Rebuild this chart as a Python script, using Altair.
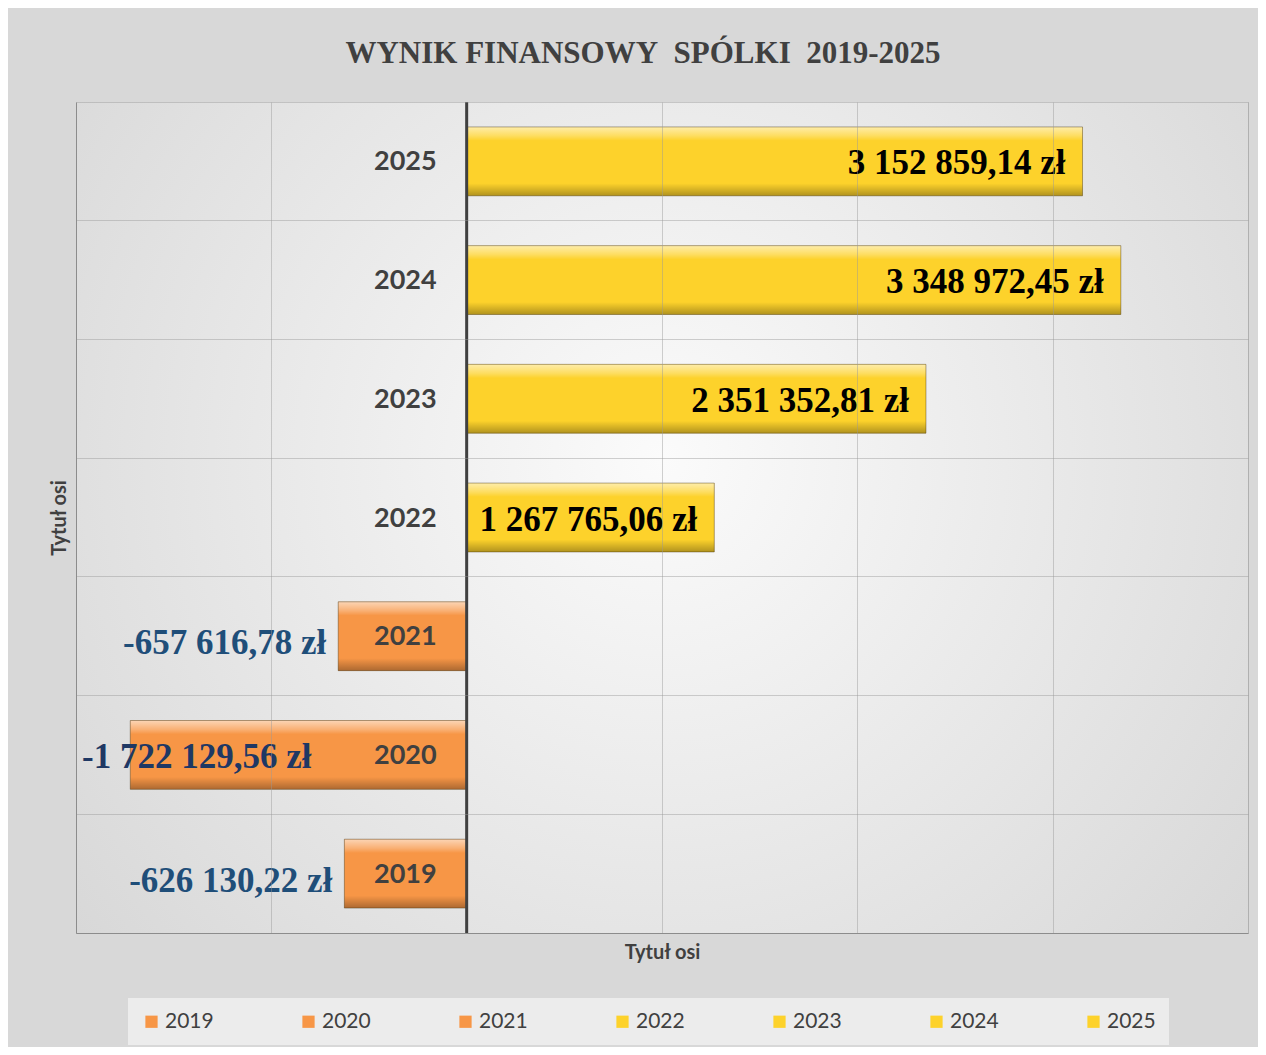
import altair as alt
import pandas as pd

years = ["2019", "2020", "2021", "2022", "2023", "2024", "2025"]
values = [-626130.22, -1722129.56, -657616.78, 1267765.06, 2351352.81, 3348972.45, 3152859.14]
bar_colors = ["#F79646", "#F79646", "#F79646", "#FDD22B", "#FDD22B", "#FDD22B", "#FDD22B"]
x_domain = [-2000000, 4000000]
grid_ticks = [-2000000, -1000000, 1000000, 2000000, 3000000, 4000000]
title_text = "WYNIK FINANSOWY\u00a0 SPÓLKI\u00a0 2019-2025"
axis_title = "Tytuł osi"


def fmt(v):
    s = f"{v:,.2f}".replace(",", " ").replace(".", ",")
    return s + " zł"


df = pd.DataFrame({"year": years, "value": values, "label": [fmt(v) for v in values]})
order = list(reversed(years))

xscale = alt.Scale(domain=x_domain, nice=False, zero=False)
yscale = alt.Scale(domain=order, paddingInner=0, paddingOuter=0)

xaxis = alt.Axis(values=grid_ticks, labels=False, ticks=False, grid=True, gridColor="#9a9a9a",
                 gridOpacity=0.45, zindex=1,
                 domain=True, domainColor="#8c8c8c", title=axis_title, titleFontSize=20,
                 titleFont="Lato", titleFontWeight="bold", titleColor="#404040", titlePadding=9)
yaxis = alt.Axis(labels=False, ticks=False, grid=True, gridColor="#9a9a9a", gridOpacity=0.45,
                 bandPosition=0, zindex=1,
                 domain=True, domainColor="#8c8c8c", title=axis_title, titleFontSize=20,
                 titleFont="Lato", titleFontWeight="bold", titleColor="#404040", titlePadding=7)


def X(field, **kw):
    return alt.X(field, scale=xscale, axis=xaxis, title=axis_title, **kw)


def Y():
    return alt.Y("year:N", scale=yscale, sort=order, axis=yaxis, title=axis_title)


base = alt.Chart(df)

bg = alt.Chart(pd.DataFrame({"a": [0]})).mark_rect(
    color={"gradient": "radial", "x1": 0.5, "y1": 0.45, "x2": 0.5, "y2": 0.45, "r1": 0, "r2": 0.75,
           "stops": [{"offset": 0, "color": "#fbfbfb"}, {"offset": 1, "color": "#d2d2d2"}]}
).encode(
    x=alt.XDatum(x_domain[0], scale=xscale, axis=xaxis, title=axis_title),
    x2=alt.X2Datum(x_domain[1]),
)

bars = base.mark_bar(height=alt.RelativeBandSize(band=0.58)).encode(
    x=X("value:Q"),
    y=Y(),
    color=alt.Color("year:N", scale=alt.Scale(domain=years, range=bar_colors),
                    legend=alt.Legend(title=None, orient="none", legendX=52, legendY=896,
                                      direction="horizontal", columns=7, columnPadding=84,
                                      symbolType="square", symbolSize=150, symbolStrokeWidth=0,
                                      labelFontSize=21, labelFont="Lato", labelColor="#404040",
                                      labelOffset=3, fillColor="#ececec", padding=13)),
)

bevel = base.mark_bar(
    height=alt.RelativeBandSize(band=0.58),
    stroke="rgba(60,40,0,0.4)", strokeWidth=1,
    color={"gradient": "linear", "x1": 0, "y1": 0, "x2": 0, "y2": 1,
           "stops": [{"offset": 0, "color": "rgba(255,255,255,0.6)"},
                     {"offset": 0.13, "color": "rgba(255,255,255,0.25)"},
                     {"offset": 0.2, "color": "rgba(255,255,255,0)"},
                     {"offset": 0.82, "color": "rgba(0,0,0,0)"},
                     {"offset": 1, "color": "rgba(0,0,0,0.3)"}]},
).encode(x=X("value:Q"), y=Y())

zero = alt.Chart(pd.DataFrame({"a": [0]})).mark_rule(color="#404040", strokeWidth=3).encode(
    x=alt.XDatum(0, scale=xscale, axis=xaxis, title=axis_title)
)

year_labels = base.mark_text(align="right", baseline="middle", dx=-30, dy=1, font="Lato",
                             fontWeight="bold", fontSize=27, color="#404040").encode(
    x=alt.XDatum(0, scale=xscale, axis=xaxis, title=axis_title), y=Y(), text="year:N"
)

pos_labels = base.transform_filter("datum.value > 0").mark_text(
    align="right", baseline="middle", dx=-17, dy=2, font="Liberation Serif", fontWeight="bold",
    fontSize=35, color="#000000").encode(x=X("value:Q"), y=Y(), text="label:N")

neg_labels = base.transform_filter("datum.value < 0 && datum.value > -1300000").mark_text(
    align="right", baseline="middle", dx=-12, dy=7, font="Liberation Serif", fontWeight="bold",
    fontSize=35, color="#1F4E79").encode(x=X("value:Q"), y=Y(), text="label:N")

neg_clamped = base.transform_filter("datum.value <= -1300000").mark_text(
    align="left", baseline="middle", dx=6, dy=2, font="Liberation Serif", fontWeight="bold",
    fontSize=35, color="#1F3864").encode(
    x=alt.XDatum(x_domain[0], scale=xscale, axis=xaxis, title=axis_title), y=Y(), text="label:N")

chart = alt.layer(bg, bars, bevel, zero, year_labels, pos_labels, neg_labels, neg_clamped).properties(
    width=1172, height=831,
    title=alt.TitleParams(text=title_text, fontSize=31, font="Liberation Serif", fontWeight="bold",
                          color="#404040", anchor="middle", offset=31, dx=-19),
    autosize=alt.AutoSizeParams(type="none"),
    padding={"left": 68, "top": 94, "right": 10, "bottom": 114},
    background="#d8d8d8",
).configure_view(stroke="#c4c4c4", strokeWidth=1)

chart.save("out.html", embed_options={"renderer": "svg", "actions": False})
